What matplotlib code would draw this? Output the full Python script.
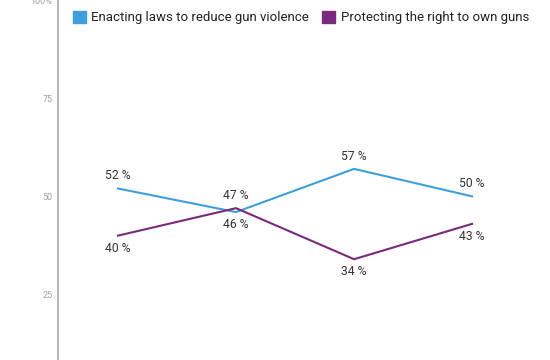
import matplotlib
matplotlib.use("Agg")
import matplotlib.pyplot as plt
from matplotlib.patches import Rectangle

periods = [0, 1, 2, 3]
enacting = [52, 46, 57, 50]
protecting = [40, 47, 34, 43]
series_names = ["Enacting laws to reduce gun violence", "Protecting the right to own guns"]
colors = ["#3d9fdc", "#7a2a7c"]
# label placement: +1 above, -1 below
enact_pos = [1, -1, 1, 1]
protect_pos = [-1, 1, -1, -1]
yticks = [25, 50, 75, 100]
ytick_labels = ["25", "50", "75", "100%"]

plt.rcParams['font.family'] = ['Roboto', 'DejaVu Sans']

fig = plt.figure(figsize=(5.5, 3.6), dpi=100)
ax = fig.add_axes([58/550, 0, 1 - 58/550, 1])
ax.set_xlim(-0.508, 3.66)
ax.set_ylim((393-360)/3.96, 393/3.96)

for vals, pos, col in [(enacting, enact_pos, colors[0]), (protecting, protect_pos, colors[1])]:
    ax.plot(periods, vals, color=col, lw=1.5, solid_joinstyle='miter')
    for x, v, p in zip(periods, vals, pos):
        ax.annotate(f"{v} %", (x, v), xytext=(0, 4.5 * p), textcoords='offset points',
                    ha='center', va='bottom' if p > 0 else 'top',
                    fontsize=8.7, color='#333333')

ax.set_yticks(yticks)
ax.set_yticklabels(ytick_labels, fontsize=6.5, color='#a0a0a0')
ax.tick_params(axis='y', length=0, pad=4)
ax.set_xticks([])
for s in ['top', 'right', 'bottom']:
    ax.spines[s].set_visible(False)
ax.spines['left'].set_color('#aaaaaa')
ax.spines['left'].set_linewidth(1.2)

# legend
handles = [Rectangle((0, 0), 1, 1, color=c) for c in colors]
leg = fig.legend(handles, series_names, loc='upper left', bbox_to_anchor=(61/550, 1 + 1/360),
                 ncol=2, frameon=False, fontsize=9.5, handlelength=1.0, handleheight=1.0,
                 handletextpad=0.4, columnspacing=1.0, labelcolor='#222222')

fig.savefig("out.png", dpi=100, facecolor='white')
